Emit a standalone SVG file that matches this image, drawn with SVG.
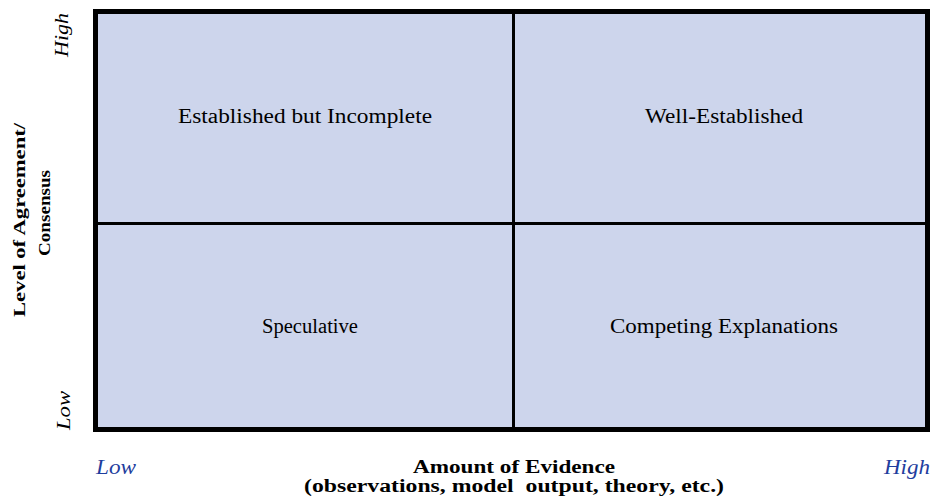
<svg xmlns="http://www.w3.org/2000/svg" width="931" height="502" viewBox="0 0 931 502">
<style>
.q{fill:#CDD5EC;}
.ql{font-family:"Liberation Serif","Times New Roman",serif;font-size:20px;fill:#000;text-anchor:middle;}
.frame{fill:none;stroke:#000;}
.ax{font-family:"Liberation Serif","Times New Roman",serif;font-size:20px;font-style:italic;fill:#1F3E9E;}
.title{font-family:"Liberation Serif","Times New Roman",serif;font-size:18px;font-weight:bold;fill:#000;text-anchor:middle;}
.yl{font-family:"Liberation Serif","Times New Roman",serif;font-size:16px;font-weight:bold;fill:#000;text-anchor:middle;}
.yax{font-family:"Liberation Serif","Times New Roman",serif;font-size:18px;font-style:italic;fill:#000;}
</style>
<rect width="931" height="502" fill="#fff"/>
<g id="established-but-incomplete">
<rect class="q" x="95.5" y="11.5" width="418" height="212"/>
<text class="ql" x="305" y="123" textLength="254" lengthAdjust="spacingAndGlyphs">Established but Incomplete</text>
</g>
<g id="well-established">
<rect class="q" x="513.5" y="11.5" width="414" height="212"/>
<text class="ql" x="724" y="123" textLength="158" lengthAdjust="spacingAndGlyphs">Well-Established</text>
</g>
<g id="speculative">
<rect class="q" x="95.5" y="223.5" width="418" height="206"/>
<text class="ql" x="310" y="333" textLength="96" lengthAdjust="spacingAndGlyphs">Speculative</text>
</g>
<g id="competing-explanations">
<rect class="q" x="513.5" y="223.5" width="414" height="206"/>
<text class="ql" x="724" y="333" textLength="228" lengthAdjust="spacingAndGlyphs">Competing Explanations</text>
</g>
<g id="connectors">
<line class="frame" x1="513.5" y1="11.5" x2="513.5" y2="429.5" stroke-width="3"/>
<line class="frame" x1="95.5" y1="223.5" x2="927.5" y2="223.5" stroke-width="3"/>
<rect class="frame" x="95.5" y="11.5" width="832" height="418" stroke-width="5"/>
</g>
<g id="x-axis">
<text class="ax" x="96" y="474" textLength="40" lengthAdjust="spacingAndGlyphs">Low</text>
<text class="ax" x="930" y="474" text-anchor="end" textLength="46" lengthAdjust="spacingAndGlyphs">High</text>
<text class="title" x="514" y="473" textLength="202" lengthAdjust="spacingAndGlyphs">Amount of Evidence</text>
<text class="title" x="514" y="492" textLength="420" lengthAdjust="spacingAndGlyphs" xml:space="preserve">(observations, model  output, theory, etc.)</text>
</g>
<g id="y-axis">
<text class="yl" transform="translate(25,220) rotate(-90)" textLength="194" lengthAdjust="spacingAndGlyphs">Level of Agreement/</text>
<text class="yl" transform="translate(50,213) rotate(-90)" textLength="86" lengthAdjust="spacingAndGlyphs">Consensus</text>
<text class="yax" transform="translate(68,57) rotate(-90)" textLength="44" lengthAdjust="spacingAndGlyphs">High</text>
<text class="yax" transform="translate(70,430) rotate(-90)" textLength="39" lengthAdjust="spacingAndGlyphs">Low</text>
</g>
</svg>
